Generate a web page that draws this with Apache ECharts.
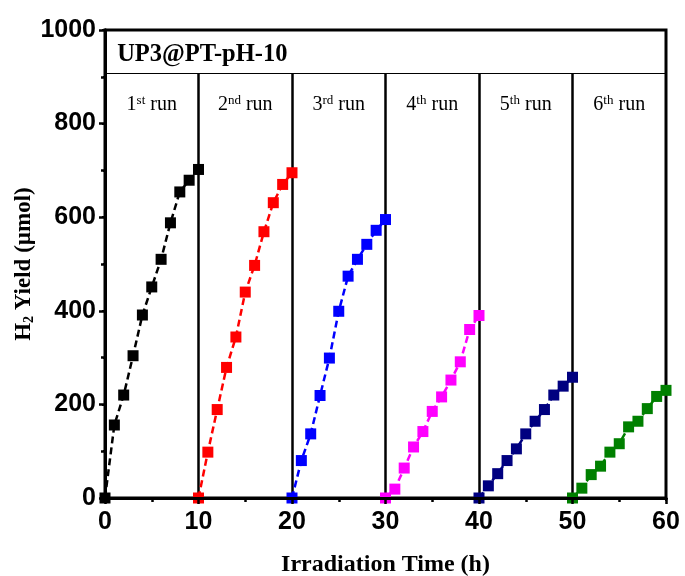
<!DOCTYPE html>
<html>
<head>
<meta charset="utf-8">
<script src="https://cdn.jsdelivr.net/npm/echarts@6/dist/echarts.min.js"></script>
<style>
  html, body { margin: 0; padding: 0; background: #fff; }
  #chart { width: 685px; height: 576px; }
</style>
</head>
<body>
<div id="chart"></div>
<script>
// Hours into each run and the start of each run on the time axis
const stepHours = [0, 1, 2, 3, 4, 5, 6, 7, 8, 9, 10];
const runStart = [0, 10, 20, 30, 40, 50];

// H2 yield (µmol) measured each hour, one array per run
const run1 = [0, 156, 220, 304, 391, 451, 510, 588, 654, 679, 702];
const run2 = [0, 98, 189, 279, 344, 440, 497, 569, 631, 670, 695];
const run3 = [0, 80, 137, 219, 299, 399, 474, 510, 542, 572, 595];
const run4 = [0, 19, 64, 109, 142, 185, 216, 252, 291, 360, 390];
const run5 = [0, 26, 52, 80, 105, 137, 164, 189, 220, 239, 258];
const run6 = [0, 21, 50, 68, 98, 116, 152, 164, 191, 217, 230];

const runs = [run1, run2, run3, run4, run5, run6];
const runColors = ['#000000', '#ff0000', '#0000ff', '#ff00ff', '#000080', '#008000'];
const runNumbers = ['1', '2', '3', '4', '5', '6'];
const runSuffixes = ['st', 'nd', 'rd', 'th', 'th', 'th'];

// Panel layout values on the data scale
const sampleTitle = 'UP3@PT-pH-10';
const headerLevel = 907;
const titleLevel = 948;
const runLabelLevel = 840;
const separators = [10, 20, 30, 40, 50];

const xTicks = { min: 0, max: 60, interval: 10 };
const yTicks = { min: 0, max: 1000, interval: 200 };

const serif = '"Liberation Serif", "Times New Roman", serif';
const sans = '"Liberation Sans", Arial, sans-serif';

const chart = echarts.init(document.getElementById('chart'), null, { renderer: 'canvas' });

const dataSeries = runs.map((vals, k) => ({
  type: 'line',
  name: runNumbers[k] + runSuffixes[k] + ' run',
  data: vals.map((v, i) => [runStart[k] + stepHours[i], v]),
  symbol: 'rect',
  symbolSize: 11,
  z: 5,
  itemStyle: { color: runColors[k] },
  lineStyle: { color: runColors[k], width: 2.5, type: [7, 4] },
  clip: false,
  animation: false
}));

// Frame pieces: vertical run separators and the header rule
const frameSeries = {
  type: 'line',
  data: [],
  silent: true,
  z: 3,
  markLine: {
    symbol: 'none',
    silent: true,
    animation: false,
    label: { show: false },
    data: separators.map(x => ([
      { coord: [x, 0], lineStyle: { color: '#000', width: 2.5, type: 'solid' } },
      { coord: [x, headerLevel] }
    ])).concat([[
      { coord: [xTicks.min, headerLevel], lineStyle: { color: '#000', width: 1.2, type: 'solid' } },
      { coord: [xTicks.max, headerLevel] }
    ]])
  }
};

const plainText = { color: '#000', opacity: 1, textBorderWidth: 0, textShadowBlur: 0 };

// Text placed in data coordinates: sample title and run labels
const textSeries = {
  type: 'scatter',
  symbolSize: 0,
  silent: true,
  z: 6,
  animation: false,
  itemStyle: { color: '#000', opacity: 1 },
  data: [
    {
      value: [1.3, titleLevel],
      label: Object.assign({
        show: true, position: 'right', distance: 0,
        formatter: sampleTitle,
        fontFamily: serif, fontWeight: 'bold', fontSize: 24.5
      }, plainText)
    }
  ].concat(runStart.map((s, k) => ({
    value: [s + 5, runLabelLevel],
    label: Object.assign({
      show: true, position: 'inside',
      formatter: '{n|' + runNumbers[k] + '}{s|' + runSuffixes[k] + '}{n| run}',
      rich: {
        n: Object.assign({ fontFamily: serif, fontSize: 20 }, plainText),
        s: Object.assign({ fontFamily: serif, fontSize: 13, padding: [0, 0, 9, 0] }, plainText)
      }
    }, plainText)
  })))
};

chart.setOption({
  animation: false,
  backgroundColor: '#fff',
  grid: {
    left: 105, right: 19, top: 30, bottom: 78,
    containLabel: false,
    outerBoundsMode: 'none',
    show: true, borderColor: '#000', borderWidth: 3, backgroundColor: 'transparent'
  },
  xAxis: [
    {
      type: 'value',
      min: xTicks.min, max: xTicks.max, interval: xTicks.interval,
      z: 7,
      name: 'Irradiation Time (h)',
      nameLocation: 'middle',
      nameGap: 55,
      nameTextStyle: { fontFamily: serif, fontWeight: 'bold', fontSize: 24, color: '#000' },
      axisLine: { show: true, onZero: false, lineStyle: { color: '#000', width: 3 } },
      axisTick: { show: true, inside: false, length: 6, lineStyle: { color: '#000', width: 2.5 } },
      minorTick: { show: true, splitNumber: 2, length: 4, lineStyle: { color: '#000', width: 2.5 } },
      axisLabel: { fontFamily: sans, fontWeight: 'bold', fontSize: 25, color: '#000', margin: 12, formatter: v => String(v) },
      splitLine: { show: false }
    },
    {
      type: 'value', position: 'top',
      min: xTicks.min, max: xTicks.max, interval: xTicks.interval,
      z: 4,
      axisLine: { show: true, lineStyle: { color: '#000', width: 3 } },
      axisTick: { show: true, inside: true, length: 3, lineStyle: { color: '#000', width: 2 } },
      minorTick: { show: true, splitNumber: 2, length: 2, lineStyle: { color: '#000', width: 2 } },
      axisLabel: { show: false },
      splitLine: { show: false }
    }
  ],
  yAxis: [
    {
      type: 'value',
      min: yTicks.min, max: yTicks.max, interval: yTicks.interval,
      z: 7,
      name: 'H{sub|2} Yield (µmol)',
      nameLocation: 'middle',
      nameRotate: 90,
      nameGap: 69,
      nameMoveOverlap: false,
      nameTextStyle: {
        fontFamily: serif, fontWeight: 'bold', fontSize: 23, color: '#000',
        rich: {
          sub: { fontFamily: serif, fontWeight: 'bold', fontSize: 14, color: '#000', padding: [9, 0, 0, 0] }
        }
      },
      axisLine: { show: true, onZero: false, lineStyle: { color: '#000', width: 3 } },
      axisTick: { show: true, inside: false, length: 6, lineStyle: { color: '#000', width: 2.5 } },
      minorTick: { show: true, splitNumber: 2, length: 4, lineStyle: { color: '#000', width: 2.5 } },
      axisLabel: { fontFamily: sans, fontWeight: 'bold', fontSize: 25, color: '#000', margin: 9, formatter: v => String(v) },
      splitLine: { show: false }
    },
    {
      type: 'value', position: 'right',
      min: yTicks.min, max: yTicks.max, interval: yTicks.interval,
      z: 4,
      axisLine: { show: true, lineStyle: { color: '#000', width: 3 } },
      axisTick: { show: true, inside: true, length: 3, lineStyle: { color: '#000', width: 2 } },
      minorTick: { show: true, splitNumber: 2, length: 2, lineStyle: { color: '#000', width: 2 } },
      axisLabel: { show: false },
      splitLine: { show: false }
    }
  ],
  series: [frameSeries].concat(dataSeries).concat([textSeries])
});
</script>
</body>
</html>
